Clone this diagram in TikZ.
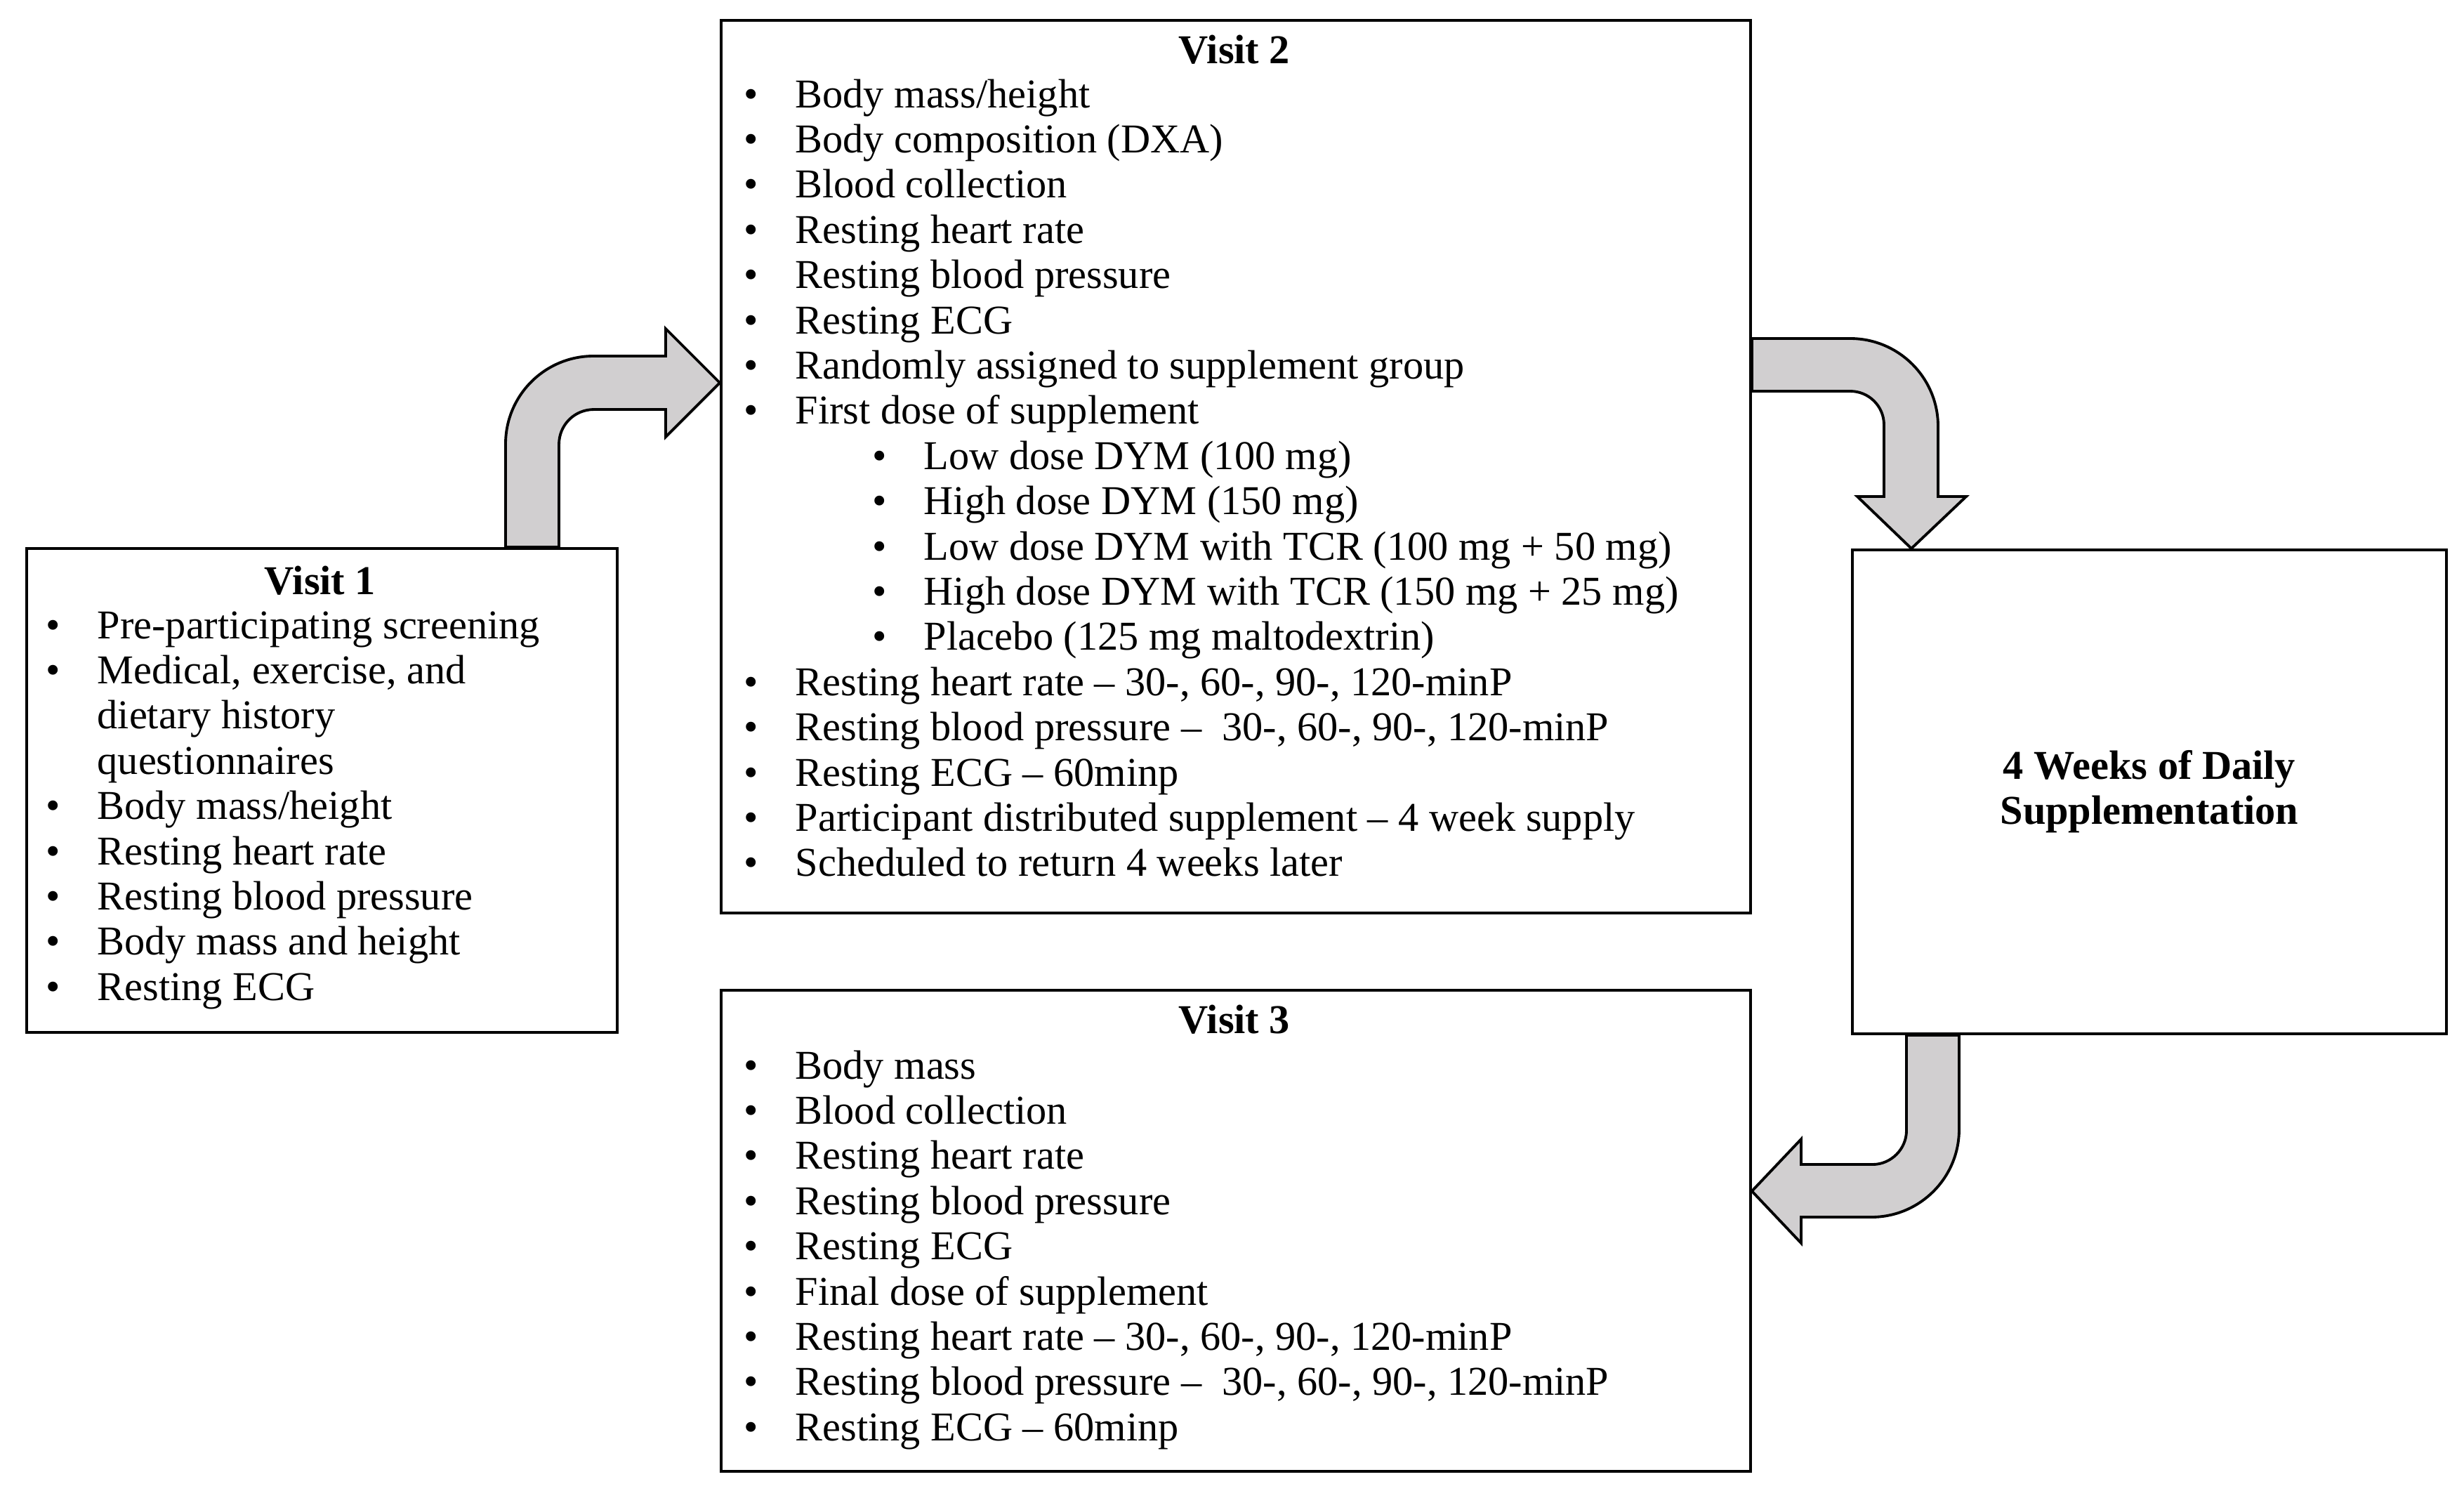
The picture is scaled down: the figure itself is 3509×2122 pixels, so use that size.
\documentclass[tikz,border=0pt]{standalone}
\usepackage{fontspec}
\setmainfont{Liberation Serif}
\definecolor{arrowgray}{RGB}{209,207,208}
\newcommand{\listfont}{\fontsize{16.6}{18.3}\selectfont}
\newcommand{\bul}{\llap{\makebox[0pt]{\textbullet}\hspace{6.3mm}}}

\begin{document}
\begin{tikzpicture}[x=0.1mm, y=-0.1mm, font=\listfont,
  box/.style={draw, line width=1.1pt, anchor=north west, inner sep=0pt},
  heading/.style={font=\listfont\bfseries, anchor=base, inner sep=0pt},
  itm/.style={anchor=base west, inner sep=0pt},
  bigarrow/.style={draw, line width=1.1pt, fill=arrowgray}]
\useasboundingbox (0,0) rectangle (3509,2122);

% the four boxes
\node [box, minimum width=84.1mm, minimum height=68.9mm] (v1) at (36,779) {};
\node [box, minimum width=146.6mm, minimum height=127.1mm] (v2) at (1025,27) {};
\node [box, minimum width=84.6mm, minimum height=68.9mm] (wk) at (2636,781) {};
\node [box, minimum width=146.6mm, minimum height=68.5mm] (v3) at (1025,1408) {};

% Visit 1
\node [heading] (v1t) at (456,846) {Visit 1};
\foreach \txt [count=\i from 0] in {{\bul Pre-participating screening},
  {\bul Medical, exercise, and}, {dietary history}, {questionnaires},
  {\bul Body mass/height}, {\bul Resting heart rate},
  {\bul Resting blood pressure}, {\bul Body mass and height},
  {\bul Resting ECG}}
  \node [itm] (v1i\i) at (138,{909+64.4*\i}) {\txt};

% Visit 2
\node [heading] (v2t) at (1758,90) {Visit 2};
\foreach \x/\txt [count=\i from 0] in {1132/{\bul Body mass/height},
  1132/{\bul Body composition (DXA)}, 1132/{\bul Blood collection},
  1132/{\bul Resting heart rate}, 1132/{\bul Resting blood pressure},
  1132/{\bul Resting ECG}, 1132/{\bul Randomly assigned to supplement group},
  1132/{\bul First dose of supplement},
  1315/{\bul Low dose DYM (100 mg)}, 1315/{\bul High dose DYM (150 mg)},
  1315/{\bul Low dose DYM with TCR (100 mg + 50 mg)},
  1315/{\bul High dose DYM with TCR (150 mg + 25 mg)},
  1315/{\bul Placebo (125 mg maltodextrin)},
  1132/{\bul Resting heart rate -- 30-, 60-, 90-, 120-minP},
  1132/{\bul Resting blood pressure -- \ 30-, 60-, 90-, 120-minP},
  1132/{\bul Resting ECG -- 60minp},
  1132/{\bul Participant distributed supplement -- 4 week supply},
  1132/{\bul Scheduled to return 4 weeks later}}
  \node [itm] (v2i\i) at (\x,{153+64.4*\i}) {\txt};

% supplementation period
\node [font=\listfont\bfseries, align=center] (wkt) at (wk.center) {4 Weeks of Daily\\Supplementation};

% Visit 3
\node [heading] (v3t) at (1758,1471) {Visit 3};
\foreach \txt [count=\i from 0] in {{\bul Body mass}, {\bul Blood collection},
  {\bul Resting heart rate}, {\bul Resting blood pressure}, {\bul Resting ECG},
  {\bul Final dose of supplement},
  {\bul Resting heart rate -- 30-, 60-, 90-, 120-minP},
  {\bul Resting blood pressure -- \ 30-, 60-, 90-, 120-minP},
  {\bul Resting ECG -- 60minp}}
  \node [itm] (v3i\i) at (1132,{1536+64.4*\i}) {\txt};

% bent block arrows
\draw [bigarrow] (720,0 |- v1.north) -- (720,632) .. controls (720,563) and (776,507) .. (845,507)
  -- (948,507) -- (948,468) -- (v2.west |- 0,545) -- (948,622) -- (948,583) -- (846,583)
  .. controls (818,583) and (796,605) .. (796,633) -- (796,0 |- v1.north) -- cycle;
\draw [bigarrow] (v2.east |- 0,482) -- (2635,482) .. controls (2704,482) and (2760,538) .. (2760,607)
  -- (2760,707) -- (2800,707) -- (2722,0 |- wk.north) -- (2645,707) -- (2683,707) -- (2683,605)
  .. controls (2683,578) and (2661,557) .. (2635,557) -- (v2.east |- 0,557) -- cycle;
\draw [bigarrow] (2715,0 |- wk.south) -- (2715,1610) .. controls (2715,1636) and (2693,1658) .. (2667,1658)
  -- (2565,1658) -- (2565,1622) -- (v3.east |- 0,1696) -- (2565,1770) -- (2565,1733) -- (2665,1733)
  .. controls (2734,1733) and (2790,1677) .. (2790,1608) -- (2790,0 |- wk.south) -- cycle;
\end{tikzpicture}
\end{document}
